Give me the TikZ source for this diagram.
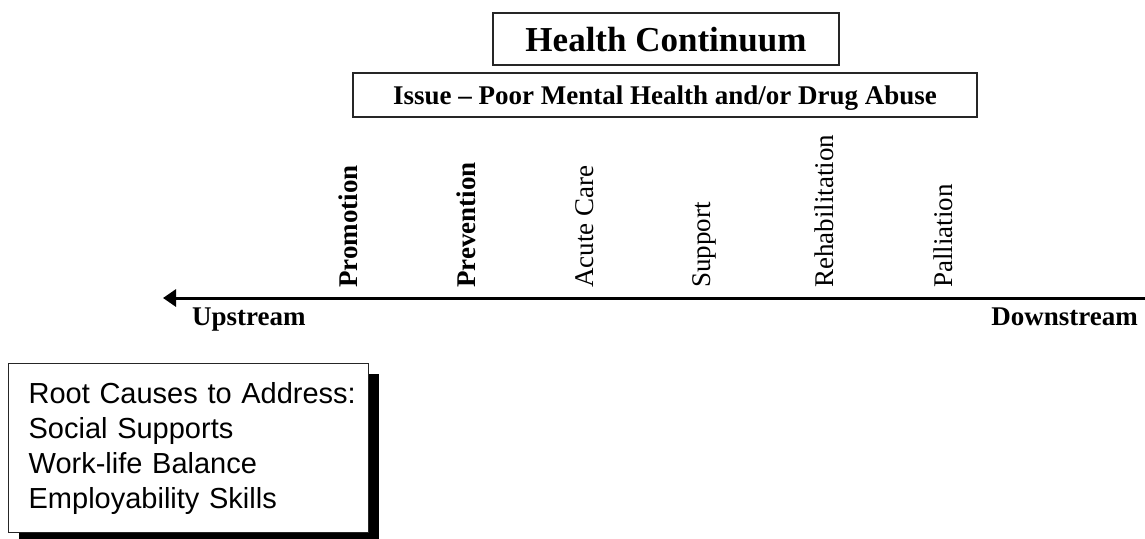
\documentclass[tikz,border=0pt]{standalone}
\usepackage{fontspec}
\setmainfont{Liberation Serif}
\newfontfamily\boxsans{Liberation Sans}
\usetikzlibrary{arrows.meta,shadows}
\tikzset{
  titlebox/.style={draw=black!85, line width=1.3pt, inner sep=0pt, text depth=0pt},
  stage/.style={rotate=90, anchor=base west, inner sep=0pt, font=\fontsize{27}{32}\selectfont},
  endlabel/.style={inner sep=0pt, font=\fontsize{27}{32}\selectfont\bfseries},
  causebox/.style={draw=black!85, line width=1.3pt, fill=white, anchor=north west,
    minimum width=360pt, minimum height=169pt, text width=320pt, inner xsep=20pt,
    align=left, font=\boxsans\fontsize{29}{35}\selectfont,
    drop shadow={shadow xshift=10pt, shadow yshift=-10pt, opacity=1, fill=black}},
  axis/.style={line width=3pt, -{Triangle[length=13pt,width=17pt]}}
}
\begin{document}
\begin{tikzpicture}[x=1pt,y=-1pt]
\useasboundingbox (0,0) rectangle (1145,538);
\clip (0,0) rectangle (1145,538);
% titles
\node[titlebox, minimum width=346pt, minimum height=52pt, font=\fontsize{35}{40}\selectfont\bfseries]
  (title) at (666,39) {Health Continuum};
\node[titlebox, minimum width=624pt, minimum height=44pt, font=\fontsize{27}{32}\selectfont\bfseries]
  (issue) at (665,95) {Issue -- Poor Mental Health and/or Drug Abuse};
% axis
\coordinate (right) at (1146,298);
\coordinate (left) at (163,298);
\draw[axis] (right) -- (left);
\node[endlabel, anchor=base west] (up) at (192,325) {Upstream};
\node[endlabel, anchor=base east] (down) at (1138,325) {Downstream};
% stages
\node[stage, font=\fontsize{27}{32}\selectfont\bfseries] (s1) at (357,288) {Promotion};
\node[stage, font=\fontsize{27}{32}\selectfont\bfseries] (s2) at (475,288) {Prevention};
\node[stage] (s3) at (593,288) {Acute Care};
\node[stage] (s4) at (710,288) {Support};
\node[stage] (s5) at (833,288) {Rehabilitation};
\node[stage] (s6) at (952,288) {Palliation};
% root causes
\node[causebox] (causes) at (8,363) {\mbox{Root Causes to Address:}\\\mbox{Social Supports}\\\mbox{Work-life Balance}\\\mbox{Employability Skills}};
\end{tikzpicture}
\end{document}
